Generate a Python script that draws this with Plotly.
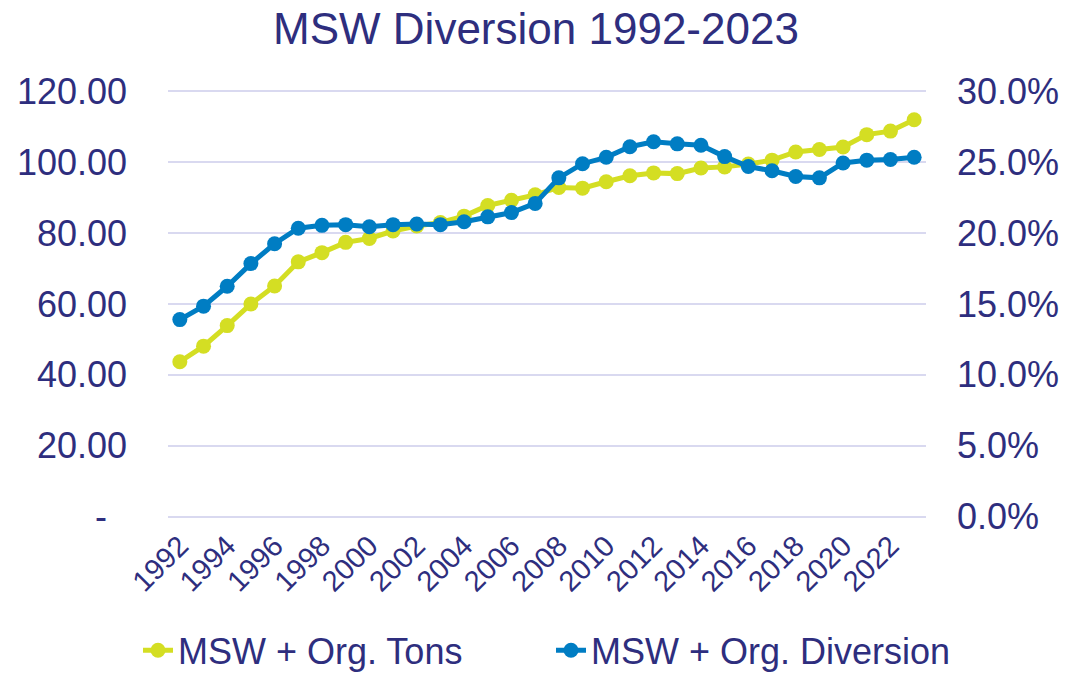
import plotly.graph_objects as go

years = [str(y) for y in range(1992, 2024)]
tons = [43.7, 48.1, 53.9, 60.0, 65.1, 71.9, 74.5, 77.4, 78.5, 80.6, 82.0, 83.0,
        84.8, 87.8, 89.3, 90.8, 92.9, 92.7, 94.5, 96.2, 97.0, 96.8, 98.4, 98.7,
        99.5, 100.6, 102.9, 103.6, 104.3, 107.8, 108.8, 112.0]
diversion = [13.9, 14.85, 16.25, 17.85, 19.25, 20.35, 20.55, 20.6, 20.45, 20.6, 20.65, 20.6,
             20.8, 21.15, 21.45, 22.1, 23.9, 24.9, 25.35, 26.1, 26.45, 26.3, 26.2, 25.4,
             24.7, 24.4, 24.0, 23.9, 24.95, 25.15, 25.2, 25.35]
diversion_frac = [v / 100 for v in diversion]

left_ticks = [0, 20, 40, 60, 80, 100, 120]
left_text = ["-\u00a0\u00a0", "20.00", "40.00", "60.00", "80.00", "100.00", "120.00"]
right_ticks = [0, 0.05, 0.10, 0.15, 0.20, 0.25, 0.30]
x_labels = years[::2]

NAVY = "#2E2E7E"
YELLOW = "#D4DE23"
BLUE = "#007DC3"
GRID = "#D9D9F0"
FONT = "Arial, Liberation Sans, sans-serif"

W, H = 1066, 674
L, R, T, B = 168, 140, 89.6, 155.6
plot_w = W - L - R
plot_h = H - T - B
pad_units = 0.4

fig = go.Figure()
fig.add_trace(go.Scatter(x=years, y=tons, name="MSW + Org. Tons", mode="lines+markers",
                         line=dict(color=YELLOW, width=5),
                         marker=dict(color=YELLOW, size=15), yaxis="y"))
fig.add_trace(go.Scatter(x=years, y=diversion_frac, name="MSW + Org. Diversion", mode="lines+markers",
                         line=dict(color=BLUE, width=5),
                         marker=dict(color=BLUE, size=15), yaxis="y2"))

fig.update_layout(
    width=W, height=H,
    margin=dict(l=L, r=R, t=T, b=B, pad=0, autoexpand=False),
    paper_bgcolor="white", plot_bgcolor="white",
    font=dict(family=FONT, color=NAVY, size=36),
    title=dict(text="MSW Diversion 1992-2023", x=536 / W, xanchor="center",
               yref="container", y=1 - 29 / H, yanchor="middle",
               font=dict(size=44, color=NAVY, family=FONT)),
    xaxis=dict(type="category", range=[-0.5, 31.5], tickmode="array",
               tickvals=x_labels, ticktext=x_labels, tickangle=-45,
               tickfont=dict(size=29, color=NAVY), showgrid=False,
               showline=False, zeroline=False, ticks="", automargin=False,
               ticklabelstandoff=4),
    yaxis=dict(range=[-pad_units, 120 + pad_units], tickmode="array",
               tickvals=left_ticks, ticktext=left_text,
               showgrid=True, gridcolor=GRID, gridwidth=2, zeroline=False,
               showline=False, ticks="", ticklabelstandoff=40, automargin=False,
               tickfont=dict(size=36, color=NAVY)),
    yaxis2=dict(range=[-pad_units / 400, 0.30 + pad_units / 400], overlaying="y", side="right",
                tickmode="array", tickvals=right_ticks, tickformat=".1%", showgrid=False,
                zeroline=False, showline=False, ticks="", ticklabelstandoff=30,
                automargin=False, tickfont=dict(size=36, color=NAVY)),
    legend=dict(orientation="h", xref="paper", x=(138 - L) / plot_w, xanchor="left",
                yref="paper", y=-(651 - (H - B)) / plot_h, yanchor="middle",
                font=dict(size=36, color=NAVY), itemwidth=30, entrywidth=368,
                bgcolor="rgba(0,0,0,0)"),
    showlegend=True,
)

fig.write_html("out.html", config={"displayModeBar": False},
               post_script="document.body.style.margin='0';")
